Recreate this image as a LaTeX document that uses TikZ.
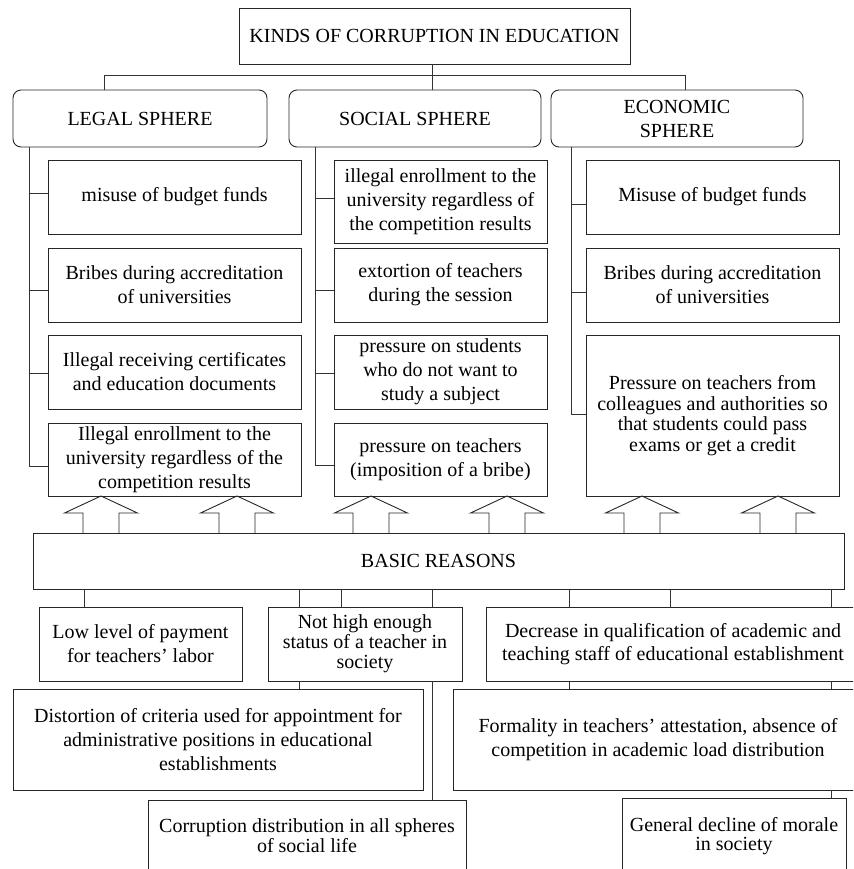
\documentclass[tikz,border=0pt]{standalone}
\usepackage{fontspec}
\setmainfont{Liberation Serif}
\usetikzlibrary{calc}
\begin{document}
\begin{tikzpicture}[x=1pt,y=-1pt,
  every node/.style={font=\fontsize{20}{24}\selectfont},
  box/.style={draw=black!85, line width=0.9pt, rectangle, inner sep=0pt, outer sep=0pt, align=center},
  sph/.style={box, rounded corners=8pt},
  ln/.style={draw=black!80, line width=0.9pt},
  barrow/.style={draw=black!85, line width=0.9pt, line join=miter}
]
\useasboundingbox (0,0) rectangle (853,869);
\clip (0,0) rectangle (853,869);

% title and spheres
\node[box, minimum width=391pt, minimum height=56pt] (top) at (434.5,36) {KINDS OF CORRUPTION IN EDUCATION};
\node[sph, minimum width=254pt, minimum height=57pt] (legal) at (140,118.5) {LEGAL SPHERE};
\node[sph, minimum width=252pt, minimum height=57pt] (social) at (415,118.5) {SOCIAL SPHERE};
\node[sph, minimum width=252pt, minimum height=57pt] (econ) at (677,118.5) {ECONOMIC\\SPHERE};

% legal sphere boxes
\node[box, minimum width=253pt, minimum height=74pt] (L1) at (174.5,197) {misuse of budget funds};
\node[box, minimum width=253pt, minimum height=74pt] (L2) at (174.5,285) {Bribes during accreditation\\of universities};
\node[box, minimum width=253pt, minimum height=74pt] (L3) at (174.5,372) {Illegal receiving certificates\\and education documents};
\node[box, minimum width=253pt, minimum height=73pt] (L4) at (174.5,459.5) {Illegal enrollment to the\\university regardless of the\\competition results};

% social sphere boxes
\node[box, minimum width=213pt, minimum height=83pt] (S1) at (440.5,201.5) {illegal enrollment to the\\university regardless of\\the competition results};
\node[box, minimum width=213pt, minimum height=74pt] (S2) at (440.5,285) {extortion of teachers\\during the session};
\node[box, minimum width=213pt, minimum height=74pt] (S3) at (440.5,372) {pressure on students\\who do not want to\\study a subject};
\node[box, minimum width=213pt, minimum height=73pt] (S4) at (440.5,459.5) {pressure on teachers\\(imposition of a bribe)};

% economic sphere boxes
\node[box, minimum width=253pt, minimum height=74pt] (E1) at (712.5,197) {Misuse of budget funds};
\node[box, minimum width=253pt, minimum height=74pt] (E2) at (712.5,285) {Bribes during accreditation\\of universities};
\node[box, minimum width=253pt, minimum height=161pt, font=\fontsize{20}{20.5}\selectfont] (E3) at (712.5,415.5) {Pressure on teachers from\\colleagues and authorities so\\that students could pass\\exams or get a credit};

% basic reasons
\node[box, minimum width=811pt, minimum height=56pt] (basic) at (438.5,561) {BASIC REASONS};
\node[box, minimum width=203pt, minimum height=74pt] (low) at (140.5,644) {Low level of payment\\for teachers’ labor};
\node[box, minimum width=194pt, minimum height=74pt, font=\fontsize{20}{20}\selectfont] (nothigh) at (365,644) {Not high enough\\status of a teacher in\\society};
\node[box, minimum width=374pt, minimum height=74pt, font=\fontsize{20}{22.7}\selectfont] (decr) at (673,644) {Decrease in qualification of academic and\\teaching staff of educational establishment};
\node[box, minimum width=410pt, minimum height=101pt] (dist) at (218,739.5) {Distortion of criteria used for appointment for\\administrative positions in educational\\establishments};
\node[box, minimum width=410pt, minimum height=101pt] (form) at (658,739.5) {Formality in teachers’ attestation, absence of\\competition in academic load distribution};
\node[box, minimum width=318pt, minimum height=72pt, font=\fontsize{20}{20}\selectfont] (corr) at (307,836) {Corruption distribution in all spheres\\of social life};
\node[box, minimum width=224pt, minimum height=76pt, font=\fontsize{20}{18.5}\selectfont] (gen) at (734,836) {General decline of morale\\in society};

% top connectors
\coordinate (dL) at (104,75);
\coordinate (dS) at (432,75);
\coordinate (dE) at (685,75);
\draw[ln] (top.south -| dS) -- (dS);
\draw[ln] (legal.north -| dL) -- (dL) -- (dE) -- (econ.north -| dE);
\draw[ln] (dS) -- (social.north -| dS);

% trunks
\coordinate (tL) at (29,0);
\coordinate (tS) at (315,0);
\coordinate (tE) at (571,0);
\draw[ln] (legal.south -| tL) |- ($(L4.west)+(0,6.5)$);
\draw[ln] ($(L1.west)+(0,-4)$) -- ($(L1.west -| tL)+(0,-4)$);
\draw[ln] ($(L2.west)+(0,5)$) -- ($(L2.west -| tL)+(0,5)$);
\draw[ln] ($(L3.west)+(0,1)$) -- ($(L3.west -| tL)+(0,1)$);

\draw[ln] (social.south -| tS) |- ($(S4.west)+(0,5.5)$);
\draw[ln] ($(S1.west)+(0,-3.5)$) -- ($(S1.west -| tS)+(0,-3.5)$);
\draw[ln] ($(S2.west)+(0,5)$) -- ($(S2.west -| tS)+(0,5)$);
\draw[ln] ($(S3.west)+(0,1)$) -- ($(S3.west -| tS)+(0,1)$);

\draw[ln] (econ.south -| tE) |- ($(E3.west)+(0,-1.5)$);
\draw[ln] ($(E1.west)+(0,7)$) -- ($(E1.west -| tE)+(0,7)$);
\draw[ln] ($(E2.west)+(0,7)$) -- ($(E2.west -| tE)+(0,7)$);

% block arrows from basic reasons to the boxes above
\foreach \ax/\tgt in {101/L4, 237/L4, 371/S4, 507/S4, 642/E3, 778/E3}{
  \coordinate (ac) at (\ax,0);
  \draw[barrow] ($(basic.north -| ac)+(-18,0)$) -- ++(0,-20) -- ++(-18.5,0)
     -- ($(\tgt.south -| ac)$) -- ($(basic.north -| ac)+(36.5,-20)$) -- ++(-18.5,0) -- ++(0,20);
}

% lower connectors
\foreach \cx in {84,299,341,432,569,670,831}{ \coordinate (c\cx) at (\cx,0); }
\draw[ln] (basic.south -| c84) -- (low.north -| c84);
\draw[ln] (basic.south -| c299) -- (nothigh.north -| c299);
\draw[ln] (basic.south -| c341) -- (nothigh.north -| c341);
\draw[ln] (basic.south -| c432) -- (nothigh.north -| c432);
\draw[ln] (nothigh.south -| c299) -- (dist.north -| c299);
\draw[ln] (nothigh.south -| c432) -- (corr.north -| c432);
\draw[ln] (basic.south -| c569) -- (decr.north -| c569);
\draw[ln] (basic.south -| c670) -- (decr.north -| c670);
\draw[ln] (basic.south -| c831) -- (decr.north -| c831);
\draw[ln] (decr.south -| c569) -- (form.north -| c569);
\draw[ln] (decr.south -| c831) -- (form.north -| c831);
\draw[ln] (form.south -| c831) -- (gen.north -| c831);
\end{tikzpicture}
\end{document}
